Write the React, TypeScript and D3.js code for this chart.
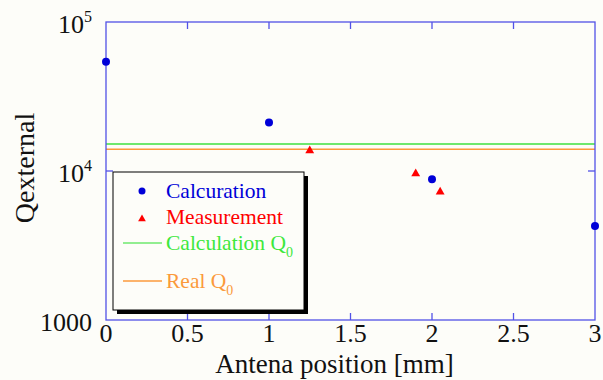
import React, { useEffect, useRef } from "react";
import * as d3 from "d3";

// data
const calcPos = [0, 1, 2, 3];
const calcQ = [54000, 21200, 8800, 4280];
const measPos = [1.25, 1.9, 2.05];
const measQ = [13700, 9600, 7230];
const calcQ0 = 15200;
const realQ0 = 14000;
const xTicks = [0, 0.5, 1, 1.5, 2, 2.5, 3];
const yTicks = [1000, 10000, 100000];

const W = 603;
const H = 380;
const FONT = "Liberation Serif, Times New Roman, Times, DejaVu Serif, serif";
const AXIS = "#5252e6";

const App = () => {
  const svgRef = useRef<SVGSVGElement>(null);

  useEffect(() => {
    const svg = d3.select(svgRef.current);
    svg.selectAll("*").remove();

    const left = 106, right = 595, top = 22, bottom = 320;
    const x = d3.scaleLinear().domain([0, 3]).range([left, right]);
    const y = d3.scaleLog().domain([1000, 100000]).range([bottom, top]);

    svg.append("rect").attr("width", W).attr("height", H).attr("fill", "#fdfdf9");

    // reference lines
    svg.append("line")
      .attr("x1", left).attr("x2", right)
      .attr("y1", y(calcQ0)).attr("y2", y(calcQ0))
      .attr("stroke", "#6ee86e").attr("stroke-width", 2);
    svg.append("line")
      .attr("x1", left).attr("x2", right)
      .attr("y1", y(realQ0)).attr("y2", y(realQ0))
      .attr("stroke", "#fb9a3c").attr("stroke-width", 1.3);

    // frame + ticks
    const frame = svg.append("g").attr("stroke", AXIS).attr("stroke-width", 1.3).attr("fill", "none");
    frame.append("rect").attr("x", left).attr("y", top).attr("width", right - left).attr("height", bottom - top);
    xTicks.slice(1, -1).forEach((t) => {
      frame.append("line").attr("x1", x(t)).attr("x2", x(t)).attr("y1", bottom).attr("y2", bottom - 7);
      frame.append("line").attr("x1", x(t)).attr("x2", x(t)).attr("y1", top).attr("y2", top + 7);
    });
    yTicks.slice(1, -1).forEach((t) => {
      frame.append("line").attr("x1", left).attr("x2", left + 7).attr("y1", y(t)).attr("y2", y(t));
      frame.append("line").attr("x1", right).attr("x2", right - 7).attr("y1", y(t)).attr("y2", y(t));
    });

    // tick labels
    svg.selectAll(".xl").data(xTicks).join("text")
      .attr("x", (d) => x(d)).attr("y", 342)
      .attr("text-anchor", "middle")
      .attr("font-family", FONT).attr("font-size", 26).attr("fill", "#111")
      .text((d) => String(d));

    yTicks.forEach((t) => {
      const txt = svg.append("text")
        .attr("x", 92).attr("y", y(t) + 11)
        .attr("text-anchor", "end")
        .attr("font-family", FONT).attr("font-size", 26).attr("fill", "#111");
      if (t === 1000) {
        txt.text("1000");
      } else {
        txt.append("tspan").text("10");
        txt.append("tspan").attr("dy", -11).attr("font-size", 16)
          .text(String(Math.round(Math.log10(t))));
      }
    });

    // axis titles
    svg.append("text")
      .attr("x", (left + right) / 2 - 16).attr("y", 373)
      .attr("text-anchor", "middle")
      .attr("font-family", FONT).attr("font-size", 27).attr("fill", "#111")
      .text("Antena position [mm]");
    svg.append("text")
      .attr("transform", "translate(34,168) rotate(-90)")
      .attr("text-anchor", "middle")
      .attr("font-family", FONT).attr("font-size", 28).attr("fill", "#111")
      .text("Qexternal");

    // points
    svg.selectAll(".calc").data(calcPos).join("circle")
      .attr("cx", (d) => x(d)).attr("cy", (d, i) => y(calcQ[i]))
      .attr("r", 4).attr("fill", "#0000d8");
    const tri = d3.symbol().type(d3.symbolTriangle).size(34);
    svg.selectAll(".meas").data(measPos).join("path")
      .attr("d", tri)
      .attr("transform", (d, i) => `translate(${x(d)},${y(measQ[i])})`)
      .attr("fill", "#ff0000");

    // legend
    const lg = svg.append("g");
    lg.append("rect").attr("x", 117).attr("y", 176).attr("width", 191).attr("height", 138).attr("fill", "#000");
    lg.append("rect").attr("x", 113).attr("y", 172).attr("width", 191).attr("height", 138)
      .attr("fill", "#fdfdf9").attr("stroke", "#000").attr("stroke-width", 1);
    lg.append("circle").attr("cx", 142).attr("cy", 191).attr("r", 3.5).attr("fill", "#0000d8");
    lg.append("path").attr("d", d3.symbol().type(d3.symbolTriangle).size(26))
      .attr("transform", "translate(142,219)").attr("fill", "#ff0000");
    lg.append("line").attr("x1", 123).attr("x2", 162).attr("y1", 243).attr("y2", 243)
      .attr("stroke", "#6ee86e").attr("stroke-width", 1.3);
    lg.append("line").attr("x1", 123).attr("x2", 162).attr("y1", 281).attr("y2", 281)
      .attr("stroke", "#fb9a3c").attr("stroke-width", 1.3);

    const items = [
      { label: "Calcuration", sub: "", color: "#0000d8", yy: 198 },
      { label: "Measurement", sub: "", color: "#ff0000", yy: 224 },
      { label: "Calculation Q", sub: "0", color: "#3de83d", yy: 250 },
      { label: "Real Q", sub: "0", color: "#fb9a3c", yy: 288 },
    ];
    items.forEach((it) => {
      const t = lg.append("text")
        .attr("x", 166).attr("y", it.yy)
        .attr("font-family", FONT).attr("font-size", 21.5).attr("fill", it.color);
      t.append("tspan").text(it.label);
      if (it.sub) t.append("tspan").attr("dy", 7).attr("font-size", 14).text(it.sub);
    });
  }, []);

  return (
    <svg
      ref={svgRef}
      width={W}
      height={H}
      style={{ position: "absolute", left: 0, top: 0 }}
    />
  );
};

export default App;
